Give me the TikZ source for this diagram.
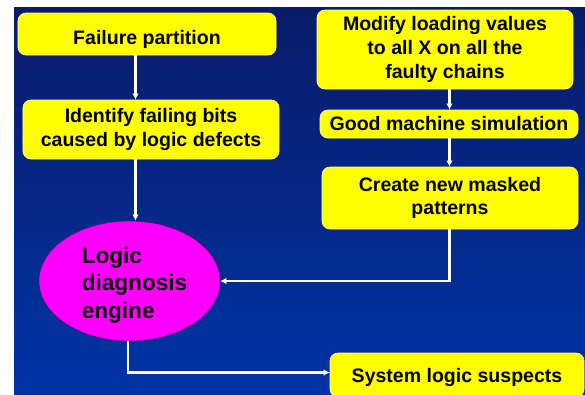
\documentclass[tikz,border=0pt]{standalone}
\usepackage{fontspec}
\setmainfont{Liberation Sans}
\usetikzlibrary{arrows.meta,shapes.geometric}

\definecolor{navytop}{HTML}{0A1B68}
\definecolor{navybot}{HTML}{0034A6}
\definecolor{boxyellow}{HTML}{FFFF00}
\definecolor{boxedge}{HTML}{FFFF99}
\definecolor{engine}{HTML}{FF00FF}
\definecolor{engineedge}{HTML}{6A0A6A}

% lower a label inside its box without changing the box size
\newcommand{\droplabel}[2]{\raisebox{-#1}[\height][\depth]{#2}}

\begin{document}
\begin{tikzpicture}[x=1bp,y=-1bp,
  stepbox/.style={draw=boxedge, fill=boxyellow, rounded corners=8bp,
    line width=0.7bp, inner sep=0pt, align=center,
    font=\fontsize{19.6}{23.8}\selectfont\bfseries},
  enginebox/.style={ellipse, draw=engineedge, fill=engine, line width=0.6bp,
    inner sep=0pt, minimum width=181bp, minimum height=120bp},
  enginetext/.style={align=left, inner sep=0pt,
    font=\fontsize{22.6}{27.5}\selectfont\bfseries},
  flow/.style={draw=white, line width=2.2bp,
    -{Latex[length=6bp,width=6.5bp]}}]
\useasboundingbox (0,0) rectangle (585,394);
\clip (0,0) rectangle (585,394);

% page and slide background
\fill[white] (0,0) rectangle (585,394);
\shade[top color=navytop, bottom color=navybot] (14,7) rectangle (586,395);

% process boxes
\node[stepbox, minimum width=258bp, minimum height=42bp] (failure) at (147,34)
  {\droplabel{5bp}{Failure partition}};
\node[stepbox, minimum width=256bp, minimum height=59bp] (identify) at (151,129.5)
  {Identify failing bits\\caused by logic defects};
\node[stepbox, minimum width=256bp, minimum height=79bp] (modify) at (445,49.5)
  {Modify loading values\\to all X on all the\\faulty chains};
\node[stepbox, minimum width=258bp, minimum height=28bp] (goodsim) at (449,124)
  {Good machine simulation};
\node[stepbox, minimum width=256bp, minimum height=62bp] (create) at (450,198)
  {Create new masked\\patterns};
\node[stepbox, minimum width=254bp, minimum height=44bp] (system) at (457,375)
  {\droplabel{2.5bp}{System logic suspects}};

% diagnosis engine
\node[enginebox] (engine) at (129.5,281) {};
\node[enginetext] (enginelabel) at (134.5,285) {Logic\\diagnosis\\engine};

% columns used by the vertical connectors
\coordinate (colL) at (135.5,0);
\coordinate (colR) at (449.5,0);

% connectors
\draw[flow] (failure.south -| colL) -- (identify.north -| colL);
\draw[flow] (identify.south -| colL) -- (engine.north -| colL);
\draw[flow] (modify.south -| colR) -- (goodsim.north -| colR);
\draw[flow] (goodsim.south -| colR) -- (create.north -| colR);
\draw[flow] (create.south -| colR) |- (engine.east);
\draw[flow] ([xshift=-1.5bp]engine.south) |- ([yshift=2.5bp]system.west);
\end{tikzpicture}
\end{document}
